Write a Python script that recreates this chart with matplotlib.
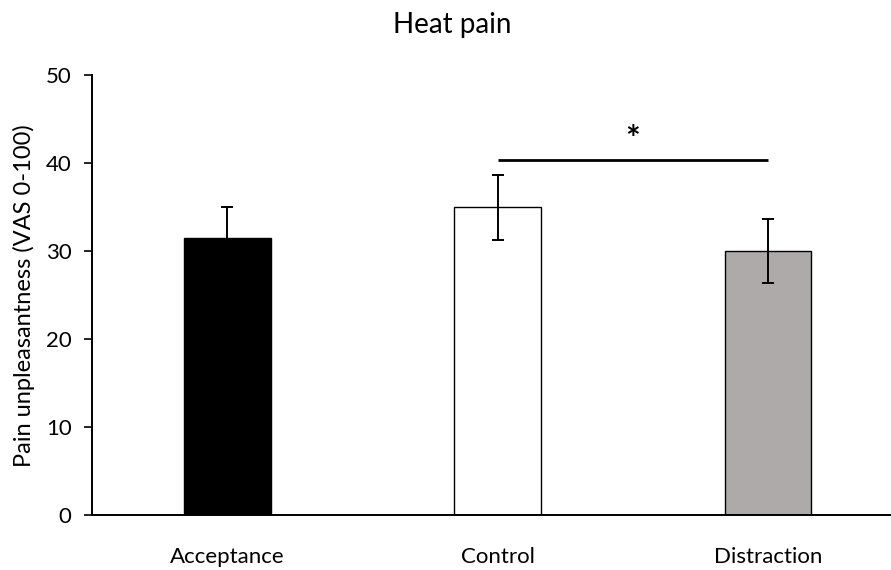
import numpy as np
import matplotlib.pyplot as plt

plt.rcParams['font.family'] = ['Lato', 'DejaVu Sans']

# ---------------- Data ----------------
conditions = ['Acceptance', 'Control', 'Distraction']
means = [31.5, 35.0, 30.0]
sems = [3.5, 3.7, 3.6]
bar_colors = ['#000000', '#ffffff', '#aeaaaa']
sig_pair = (1, 2)       # Control vs Distraction
sig_height = 40.4
yticks = [0, 10, 20, 30, 40, 50]

# ---------------- Plot ----------------
fig = plt.figure(figsize=(8.91, 5.70), dpi=100)
ax = fig.add_axes([0.1036, 0.096, 0.8964, 0.7724])

x = np.arange(len(conditions))
ax.bar(x, means, width=0.32, color=bar_colors, edgecolor='black', linewidth=1.0, zorder=2)
ax.errorbar(x, means, yerr=sems, fmt='none', ecolor='black', elinewidth=1.4,
            capsize=4.5, capthick=1.4, zorder=3)

# significance bar
ax.plot([x[sig_pair[0]], x[sig_pair[1]]], [sig_height, sig_height], color='black', lw=2.0,
        solid_capstyle='butt')
ax.text((x[sig_pair[0]] + x[sig_pair[1]]) / 2, 41.5, '*', ha='center', va='baseline',
        fontsize=25, fontweight='bold')

ax.set_xlim(-0.5, 2.456)
ax.set_ylim(0, 50)
ax.set_yticks(yticks)
ax.set_xticks(x)
ax.set_xticklabels(conditions, fontsize=16)
ax.tick_params(axis='x', length=0, pad=23)
ax.tick_params(axis='y', length=6, width=1.2, labelsize=16, pad=9)
ax.set_ylabel('Pain unpleasantness (VAS 0-100)', fontsize=17, labelpad=8)

for side in ['top', 'right']:
    ax.spines[side].set_visible(False)
for side in ['left', 'bottom']:
    ax.spines[side].set_linewidth(1.4)

fig.text(452 / 891, 1 - 33 / 570, 'Heat pain', ha='center', va='baseline', fontsize=20)

fig.savefig('out.png', dpi=100)
